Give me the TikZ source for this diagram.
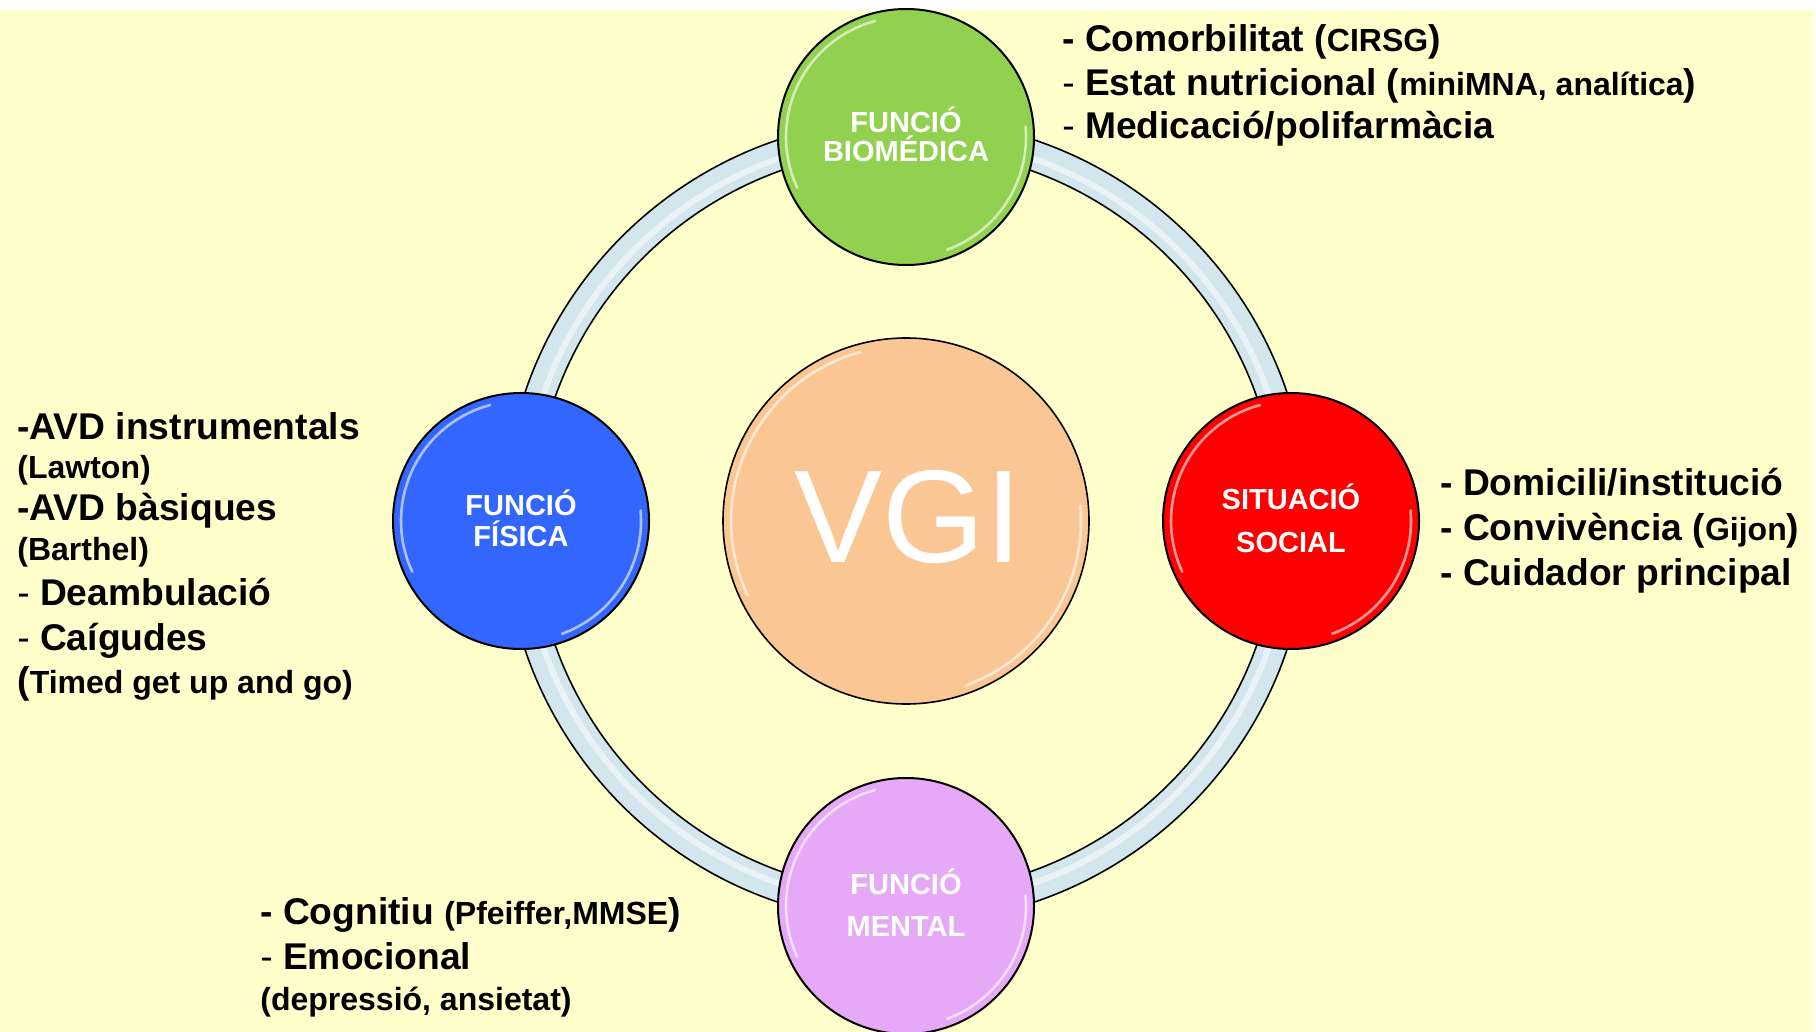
\documentclass[tikz,border=0pt]{standalone}
\usepackage{fontspec}
\setmainfont{Liberation Sans}
\usetikzlibrary{calc}
\definecolor{bgyellow}{RGB}{255,255,204}
\definecolor{ringblue}{RGB}{211,230,238}
\definecolor{cgreen}{RGB}{146,208,80}
\definecolor{cblue}{RGB}{51,102,255}
\definecolor{cred}{RGB}{255,0,0}
\definecolor{cpink}{RGB}{229,169,247}
\definecolor{cpeach}{RGB}{250,198,148}
\newcommand\mybig{\fontsize{18.6pt}{22pt}\selectfont\bfseries}
\newcommand\mysmall{\fontsize{16pt}{19pt}\selectfont\bfseries}
\newcommand\thinh{{\mdseries -}}
\begin{document}
\begin{tikzpicture}[x=0.5pt,y=-0.5pt,
  bubble/.style={circle, draw=black, line width=1pt, minimum size=128pt, inner sep=0pt},
  lab/.style={text=white, font=\fontsize{14.5pt}{17pt}\selectfont\bfseries, anchor=base, inner sep=0pt},
  txt/.style={anchor=base west, inner sep=0pt, font=\mybig},
  gloss/.style={white, opacity=.6, line width=1.3pt, line cap=round},
]
\useasboundingbox (0,0) rectangle (1816,1032);
\fill[white] (0,0) rectangle (1816,1032);
\fill[bgyellow] (0,10) rectangle (1813,1032);
% ring
\coordinate (c) at (906,521);
\fill[ringblue, even odd rule] (c) circle[radius=201pt] (c) circle[radius=186pt];
\draw[white, opacity=.5, line width=3pt] (c) circle[radius=192pt];
\draw[black, line width=.8pt] (c) circle[radius=201pt] (c) circle[radius=186pt];
% circles
\node[bubble, fill=cgreen] (bio) at (906,137) {};
\node[bubble, fill=cblue] (fis) at (521,521) {};
\node[bubble, fill=cred] (soc) at (1291,521) {};
\node[bubble, fill=cpink] (men) at (906,906) {};
\node[bubble, fill=cpeach, minimum size=183pt, line width=.8pt] (vgi) at (906,521) {};
% gloss highlights
\foreach \n/\r in {bio/60pt, fis/60pt, soc/60pt, men/60pt, vgi/87.5pt}{
  \draw[gloss] ($(\n.center)+(105:\r)$) arc[start angle=105, end angle=205, radius=\r];
  \draw[gloss] ($(\n.center)+(-70:\r)$) arc[start angle=-70, end angle=5, radius=\r];
}
% circle labels
\node[lab] (bioA) at (906,133) {FUNCIÓ};
\node[lab] (bioB) at (906,162) {BIOMÉDICA};
\node[lab] (fisA) at (521,515) {FUNCIÓ};
\node[lab] (fisB) at (521,546) {FÍSICA};
\node[lab] (socA) at (1291,509) {SITUACIÓ};
\node[lab] (socB) at (1291,552) {SOCIAL};
\node[lab] (menA) at (906,894) {FUNCIÓ};
\node[lab] (menB) at (906,936) {MENTAL};
\node[text=white, anchor=base, inner sep=0pt, font=\fontsize{66pt}{70pt}\selectfont] (vgiT) at (908,562) {VGI};
% top-right text
\node[txt] (t1) at (1062,52) {- Comorbilitat ({\mysmall CIRSG})};
\node[txt] (t2) at (1062,96) {\thinh{} Estat nutricional ({\mysmall miniMNA, analítica})};
\node[txt] (t3) at (1062,139) {\thinh{} Medicació/polifarmàcia};
% left text
\node[txt] (l1) at (17,439) {-AVD instrumentals};
\node[txt] (l2) at (17,478) {\mysmall (Lawton)};
\node[txt] (l3) at (17,520) {-AVD bàsiques};
\node[txt] (l4) at (17,560) {\mysmall (Barthel)};
\node[txt] (l5) at (17,605) {\thinh{} Deambulació};
\node[txt] (l6) at (17,650) {\thinh{} Caígudes};
\node[txt] (l7) at (17,693) {({\mysmall Timed get up and go)}};
% right text
\node[txt] (r1) at (1440,495) {- Domicili/institució};
\node[txt] (r2) at (1440,540) {- Convivència ({\mysmall Gijon})};
\node[txt] (r3) at (1440,585) {- Cuidador principal};
% bottom text
\node[txt] (b1) at (260,924) {- Cognitiu {\mysmall (Pfeiffer,MMSE})};
\node[txt] (b2) at (260,969) {\thinh{} Emocional};
\node[txt] (b3) at (260,1010) {\mysmall (depressió, ansietat)};
\end{tikzpicture}
\end{document}
